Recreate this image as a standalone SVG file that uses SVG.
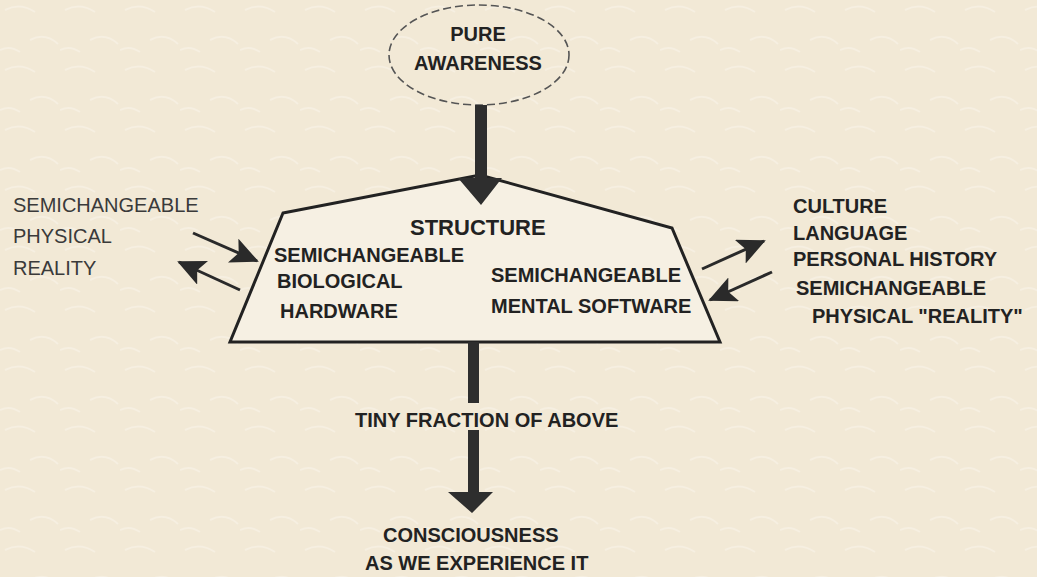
<svg xmlns="http://www.w3.org/2000/svg" width="1037" height="577" viewBox="0 0 1037 577">
  <defs>
    <marker id="head" viewBox="0 0 28 26" refX="26" refY="13" markerWidth="28" markerHeight="26" markerUnits="userSpaceOnUse" orient="auto">
      <path d="M0,0 L28,13 L0,26 L6,13 z" fill="#2a2a2a"/>
    </marker>
    <pattern id="tex" width="60" height="60" patternUnits="userSpaceOnUse">
      <rect width="60" height="60" fill="#f2e9d6"/>
      <path d="M5,10 Q20,2 35,12 M30,40 Q45,32 58,44 M0,50 Q10,45 20,52" stroke="#f6efe1" stroke-width="2" fill="none"/>
    </pattern>
    <style>
      .b { font-family: "Liberation Sans", Arial, sans-serif; font-weight: bold; font-size: 20px; fill: #222; }
      .r { font-family: "Liberation Sans", Arial, sans-serif; font-size: 20px; fill: #3a3a3a; }
      .line { stroke: #2a2a2a; stroke-width: 3; fill: none; }
      .fill { fill: #2e2e2e; }
    </style>
  </defs>

  <rect width="1037" height="577" fill="url(#tex)"/>

  <g id="pure-awareness">
    <ellipse cx="479" cy="55" rx="90" ry="50" fill="none" stroke="#555" stroke-width="1.6" stroke-dasharray="8 4"/>
    <text class="b" x="478" y="41" text-anchor="middle">PURE</text>
    <text class="b" x="478" y="70" text-anchor="middle">AWARENESS</text>
  </g>

  <g id="structure">
    <polygon points="283,213 480,175 672,228 720,342 230,342" fill="#f6f0e3" stroke="#222" stroke-width="3" stroke-linejoin="miter"/>
    <text class="b" x="410" y="235" style="font-size:22px">STRUCTURE</text>
    <text class="b" x="274" y="262">SEMICHANGEABLE</text>
    <text class="b" x="277" y="288">BIOLOGICAL</text>
    <text class="b" x="280" y="318">HARDWARE</text>
    <text class="b" x="491" y="282">SEMICHANGEABLE</text>
    <text class="b" x="491" y="313">MENTAL SOFTWARE</text>
  </g>

  <g id="left-reality">
    <text class="r" x="13" y="212">SEMICHANGEABLE</text>
    <text class="r" x="13" y="243">PHYSICAL</text>
    <text class="r" x="13" y="275">REALITY</text>
  </g>

  <g id="right-influences">
    <text class="b" x="793" y="213">CULTURE</text>
    <text class="b" x="793" y="240">LANGUAGE</text>
    <text class="b" x="793" y="266">PERSONAL HISTORY</text>
    <text class="b" x="796" y="295">SEMICHANGEABLE</text>
    <text class="b" x="812" y="323">PHYSICAL "REALITY"</text>
  </g>

  <g id="consciousness">
    <text class="b" x="383" y="542">CONSCIOUSNESS</text>
    <text class="b" x="365" y="570">AS WE EXPERIENCE IT</text>
  </g>

  <g id="connectors">
    <!-- top thick arrow -->
    <path class="fill" d="M475,105 L487,105 L487,178 L502,178 L481,205 L458,178 L475,178 z"/>
    <!-- bottom thick arrow, broken by label -->
    <rect class="fill" x="468" y="342" width="11" height="61"/>
    <path class="fill" d="M468,430 L479,430 L479,492 L493,492 L472,513 L448,492 L468,492 z"/>
    <text class="b" x="355" y="427">TINY FRACTION OF ABOVE</text>
    <!-- side arrows -->
    <line class="line" x1="193" y1="233" x2="257" y2="261" marker-end="url(#head)"/>
    <line class="line" x1="240" y1="290" x2="179" y2="262" marker-end="url(#head)"/>
    <line class="line" x1="702" y1="269" x2="764" y2="241" marker-end="url(#head)"/>
    <line class="line" x1="772" y1="272" x2="710" y2="300" marker-end="url(#head)"/>
  </g>
</svg>
